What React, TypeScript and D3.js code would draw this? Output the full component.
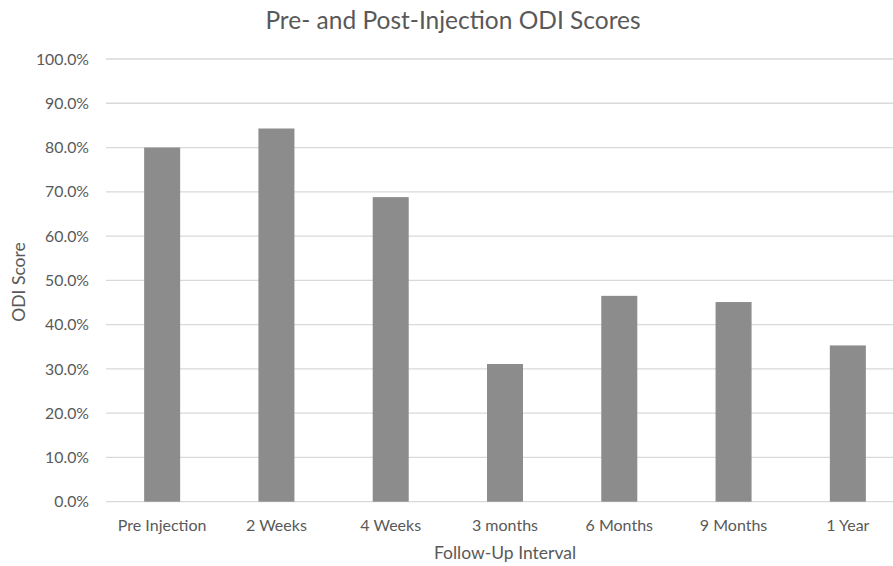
import React from 'react';
import * as d3 from 'd3';

const categories = ['Pre Injection', '2 Weeks', '4 Weeks', '3 months', '6 Months', '9 Months', '1 Year'];
const odiScores = [0.80, 0.843, 0.688, 0.311, 0.465, 0.451, 0.353];
const yTicks = [0, 0.1, 0.2, 0.3, 0.4, 0.5, 0.6, 0.7, 0.8, 0.9, 1.0];

const width = 893;
const height = 566;
const font = 'Lato, "Open Sans", sans-serif';

const App: React.FC = () => {
  // plot runs past the right edge, as in the (cropped) reference
  const x = d3.scaleBand<string>()
    .domain(categories)
    .range([105, 905])
    .paddingInner(0.685)
    .paddingOuter(0.3425);

  const y = d3.scaleLinear()
    .domain([0, 1])
    .range([501.7, 59]);

  const fmt = d3.format('.1%');

  return (
    <svg width={width} height={height} style={{ display: 'block', position: 'absolute', left: 0, top: 0 }}>
      <rect width={width} height={height} fill="#ffffff" />

      <text x={453} y={29} textAnchor="middle" fontFamily={font} fontSize={24.5} fill="#595959">
        Pre- and Post-Injection ODI Scores
      </text>

      {/* gridlines */}
      {yTicks.map(t => (
        <line key={t} x1={106} x2={905} y1={y(t)} y2={y(t)} stroke="#d9d9d9" strokeWidth={1.3} />
      ))}

      {/* y tick labels */}
      {yTicks.map(t => (
        <text key={'l' + t} x={89} y={y(t)} dy="0.36em" textAnchor="end" fontFamily={font} fontSize={15.8} fill="#595959">
          {fmt(t)}
        </text>
      ))}

      {/* bars */}
      {categories.map((c, i) => (
        <rect
          key={c}
          x={x(c)}
          y={y(odiScores[i])}
          width={x.bandwidth()}
          height={y(0) - y(odiScores[i])}
          fill="#8c8c8c"
        />
      ))}

      {/* x labels */}
      {categories.map(c => (
        <text key={'x' + c} x={(x(c) ?? 0) + x.bandwidth() / 2} y={531} textAnchor="middle" fontFamily={font} fontSize={16} fill="#595959">
          {c}
        </text>
      ))}

      <text x={505} y={559} textAnchor="middle" fontFamily={font} fontSize={17.5} fill="#595959">
        Follow-Up Interval
      </text>

      <text transform="translate(25,282) rotate(-90)" textAnchor="middle" fontFamily={font} fontSize={17.5} fill="#595959">
        ODI Score
      </text>
    </svg>
  );
};

export default App;
